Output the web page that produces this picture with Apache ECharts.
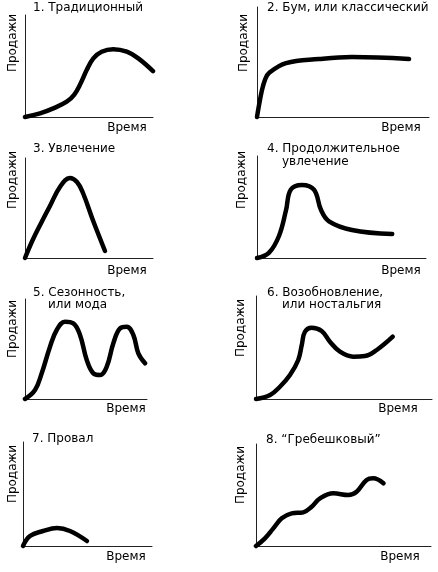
<!DOCTYPE html>
<html><head><meta charset="utf-8">
<script src="https://cdn.jsdelivr.net/npm/echarts@6/dist/echarts.min.js"></script>
<style>html,body{margin:0;padding:0;background:#fff}#c{width:438px;height:572px}</style>
</head><body><div id="c"></div>
<script>
// Data (x: time 0-100, y: sales 0-100)
const traditional = [[0,0],[11.7,3.6],[22.1,8.5],[32.6,15],[38.5,22],[43.5,33],[48.2,46],[53.4,57.5],[59.9,64],[69,66.4],[79.5,64],[88.5,57.5],[100,45]];
const boom = [[0,0],[1.2,11],[2.9,24.5],[4.7,34],[7,40],[16.9,49],[36,52.7],[55.2,54.5],[88.4,52.7]];
const fad = [[0,0],[6,18],[13,36],[19.5,52],[27.3,71],[35,80],[40.6,76],[45.3,65],[53,38],[62.5,7]];
const extendedFad = [[0,0],[7,5],[13,21.6],[17.2,47],[20,67],[26.6,71.6],[33.7,67],[37.9,47],[42.6,36],[56.2,27.5],[80,23.5]];
const seasonal = [[0,0],[8.2,9],[13.7,25.7],[20.5,52.3],[26,69],[32.8,77.3],[39.6,75.7],[45.1,64],[50.6,39],[56,25.7],[61.5,24],[67,32.3],[72.4,55.7],[77.9,70.7],[83.4,72.3],[88.8,64],[92.9,45.7],[98.4,35.7]];
const revival = [[0,0],[8,3.9],[13.6,11.9],[19.3,23.3],[24,37.9],[26,52.4],[27.8,65.3],[31.6,69.2],[37.3,66],[42,55.6],[47.7,45.9],[55.3,41.1],[61.9,41.7],[68.6,47.6],[77.7,60.5]];
const flop = [[0,0],[5.4,9.6],[15.5,14.4],[26.4,17.3],[36.4,14.4],[49.6,4.8]];
const scalloped = [[0,0],[5.1,7.5],[9.9,17.3],[14.7,27.1],[20.4,32],[27,33],[31.8,38.5],[36.6,46.7],[44.2,51.6],[52.8,50],[57.5,53.2],[63.2,64.7],[67,66.4],[72.8,61.5]];
const titles = [["1. Традиционный"],["2. Бум, или классический"],["3. Увлечение"],["4. Продолжительное","увлечение"],["5. Сезонность,","или мода"],["6. Возобновление,","или ностальгия"],["7. Провал"],["8. \u201cГребешковый\u201d"]];
const yName = "Продажи";
const xName = "Время";

const seriesData = [traditional, boom, fad, extendedFad, seasonal, revival, flop, scalloped];
const grids = [
  {left:25,top:15,width:128,height:102},
  {left:257,top:7,width:172,height:110},
  {left:25,top:158,width:128,height:100},
  {left:257,top:156,width:169,height:102},
  {left:25,top:299,width:122,height:100},
  {left:256,top:296,width:176,height:103},
  {left:23,top:442,width:129,height:104},
  {left:256,top:444,width:175,height:102}
];
const titlePos = [[33,8,0,0],[267,8,0,0],[33,149,0,0],[267,149,282,162],[33,293,48,305],[267,293,282,305],[32,439,0,0],[266,440,0,0]];
const yNamePos = [[13,43],[244,43],[13,180],[242,180],[13,329],[241,328],[13,474],[241,475]];
const xNamePos = [[127,128],[401,128],[127,271],[401,271],[126,409],[398,409],[126,557],[400,557]];

const font = "DejaVu Sans";
const fs = 12;
const axisLine = {show:true, onZero:false, lineStyle:{color:'#222', width:1}};
const xAxes = [], yAxes = [], series = [], graphic = [];
seriesData.forEach((d,i)=>{
  xAxes.push({gridIndex:i,type:'value',min:0,max:100,axisLine,axisTick:{show:false},axisLabel:{show:false},splitLine:{show:false}});
  yAxes.push({gridIndex:i,type:'value',min:0,max:100,axisLine,axisTick:{show:false},axisLabel:{show:false},splitLine:{show:false}});
  series.push({type:'line',xAxisIndex:i,yAxisIndex:i,data:d,smooth:0.4,showSymbol:false,clip:false,
    lineStyle:{color:'#000',width:4.5,cap:'round',join:'round'},silent:true});
  const t = titles[i], p = titlePos[i];
  graphic.push({type:'text',x:p[0],y:p[1],style:{text:t[0],font:fs+'px "'+font+'"',fill:'#000',textVerticalAlign:'middle',textAlign:'left'}});
  if (t[1]) graphic.push({type:'text',x:p[2],y:p[3],style:{text:t[1],font:fs+'px "'+font+'"',fill:'#000',textVerticalAlign:'middle',textAlign:'left'}});
  graphic.push({type:'text',x:yNamePos[i][0],y:yNamePos[i][1],rotation:Math.PI/2,style:{text:yName,font:fs+'px "'+font+'"',fill:'#000',textVerticalAlign:'middle',textAlign:'center'}});
  graphic.push({type:'text',x:xNamePos[i][0],y:xNamePos[i][1],style:{text:xName,font:fs+'px "'+font+'"',fill:'#000',textVerticalAlign:'middle',textAlign:'center'}});
});
const chart = echarts.init(document.getElementById('c'), null, {renderer:'canvas'});
chart.setOption({animation:false,backgroundColor:'#fff',grid:grids,xAxis:xAxes,yAxis:yAxes,series,graphic});
</script></body></html>
